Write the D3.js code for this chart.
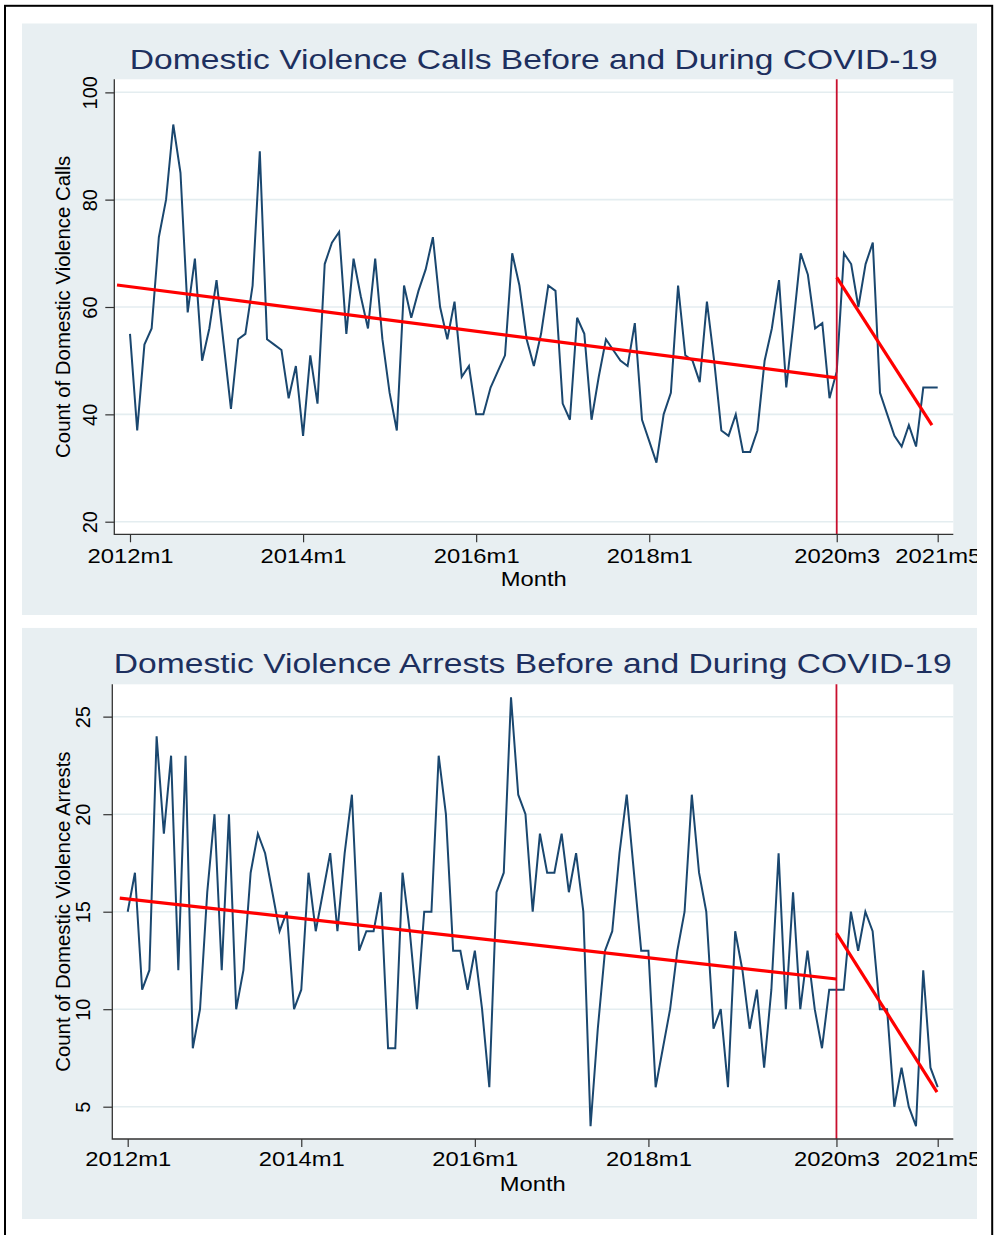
<!DOCTYPE html>
<html>
<head>
<meta charset="utf-8">
<script src="https://cdn.jsdelivr.net/npm/d3@7"></script>
<style>
  html, body { margin: 0; padding: 0; background: #fff; }
  svg { display: block; font-family: "Liberation Sans", Arial, Helvetica, sans-serif; }
</style>
</head>
<body>
<svg id="chart" width="995" height="1235"></svg>
<script>
// ── Data: monthly counts, 2012m1 … 2021m5 ─────────────────────────────────
const startYear = 2012;
const monthCount = 113;
const xTickMonths = [0, 24, 48, 72, 98, 112];
const covidMonth = 98; // 2020m3

const callsValues = [
  55, 37, 53, 56, 73, 80, 94, 85, 59, 69, 50, 56,
  65, 53, 41, 54, 55, 64, 89, 54, 53, 52, 43, 49,
  36, 51, 42, 68, 72, 74, 55, 69, 62, 56, 69, 54,
  44, 37, 64, 58, 63, 67, 73, 60, 54, 61, 47, 49,
  40, 40, 45, 48, 51, 70, 64, 54, 49, 55, 64, 63,
  42, 39, 58, 55, 39, 47, 54, 52, 50, 49, 57, 39,
  35, 31, 40, 44, 64, 51, 50, 46, 61, 50, 37, 36,
  40, 33, 33, 37, 50, 56, 65, 45, 57, 70, 66, 56,
  57, 43, 48, 70, 68, 60, 68, 72, 44, 40, 36, 34,
  38, 34, 45, 45, 45,
];

const arrestsValues = [
  15, 17, 11, 12, 24, 19, 23, 12, 23, 8, 10, 16,
  20, 12, 20, 10, 12, 17, 19, 18, 16, 14, 15, 10,
  11, 17, 14, 16, 18, 14, 18, 21, 13, 14, 14, 16,
  8, 8, 17, 14, 10, 15, 15, 23, 20, 13, 13, 11,
  13, 10, 6, 16, 17, 26, 21, 20, 15, 19, 17, 17,
  19, 16, 18, 15, 4, 9, 13, 14, 18, 21, 17, 13,
  13, 6, 8, 10, 13, 15, 21, 17, 15, 9, 10, 6,
  14, 12, 9, 11, 7, 11, 18, 10, 16, 10, 13, 10,
  8, 11, 11, 11, 15, 13, 15, 14, 10, 10, 5, 7,
  5, 4, 12, 7, 6,
];

// fitted trend end points: [month index, value]
const callsFitPre = [[-1.8, 64.1], [98, 46.8]];
const callsFitPost = [[98, 65.5], [111.2, 38.0]];
const arrestsFitPre = [[-1.1, 15.7], [98, 11.55]];
const arrestsFitPost = [[98, 13.9], [111.9, 5.75]];

const callsYTicks = [20, 40, 60, 80, 100];
const arrestsYTicks = [5, 10, 15, 20, 25];

// ── Styles ─────────────────────────────────────────────────────────────────
const BG = "#e8eff2";
const GRID = "#e4edf0";
const NAVY = "#1a476f";
const TITLE = "#1d2f5e";
const RED = "#ff0000";
const VLINE = "#c8102e";
const AXIS = "#333";

const monthLabel = (i) => `${startYear + Math.floor(i / 12)}m${(i % 12) + 1}`;

const svg = d3.select("#chart");
const defs = svg.append("defs");

// outer frame
svg.append("rect")
  .attr("x", 5).attr("y", 5.8)
  .attr("width", 987.2).attr("height", 1250)
  .attr("fill", "none")
  .attr("stroke", "#000")
  .attr("stroke-width", 2);

function drawPanel(p) {
  defs.append("clipPath").attr("id", `clip-${p.id}`)
    .append("rect")
    .attr("x", p.box.x).attr("y", p.box.y)
    .attr("width", p.box.w).attr("height", p.box.h);

  const g = svg.append("g").attr("clip-path", `url(#clip-${p.id})`);

  g.append("rect")
    .attr("x", p.box.x).attr("y", p.box.y)
    .attr("width", p.box.w).attr("height", p.box.h)
    .attr("fill", BG);

  // ── Title
  const cx = (p.plot.left + p.plot.right) / 2;
  g.append("text")
    .attr("x", cx - p.titleW / 2)
    .attr("y", p.titleY)
    .attr("font-size", 27.5)
    .attr("fill", TITLE)
    .attr("textLength", p.titleW)
    .attr("lengthAdjust", "spacingAndGlyphs")
    .text(p.title);

  // ── Plot region
  g.append("rect")
    .attr("x", p.plot.left).attr("y", p.plot.top)
    .attr("width", p.plot.right - p.plot.left)
    .attr("height", p.plot.bottom - p.plot.top)
    .attr("fill", "#fff");

  const x = d3.scaleLinear().domain([0, monthCount - 1]).range(p.xRange);
  const y = d3.scaleLinear().domain(p.yDomain).range(p.yRange);

  // gridlines
  g.append("g").selectAll("line")
    .data(p.yTicks)
    .join("line")
    .attr("x1", p.plot.left).attr("x2", p.plot.right)
    .attr("y1", (d) => y(d)).attr("y2", (d) => y(d))
    .attr("stroke", GRID)
    .attr("stroke-width", 1.6);

  // series
  g.append("path")
    .datum(p.values)
    .attr("fill", "none")
    .attr("stroke", NAVY)
    .attr("stroke-width", 2)
    .attr("stroke-linejoin", "miter")
    .attr("d", d3.line().x((d, i) => x(i)).y((d) => y(d)));

  // COVID marker
  g.append("line")
    .attr("x1", x(covidMonth)).attr("x2", x(covidMonth))
    .attr("y1", p.plot.top).attr("y2", p.plot.bottom)
    .attr("stroke", VLINE)
    .attr("stroke-width", 1.8);

  // fitted trends
  const fitLine = d3.line().x((d) => x(d[0])).y((d) => y(d[1]));
  g.append("g").selectAll("path")
    .data(p.fits)
    .join("path")
    .attr("fill", "none")
    .attr("stroke", RED)
    .attr("stroke-width", 3.2)
    .attr("d", fitLine);

  // ── Axes
  const yAxis = g.append("g")
    .attr("transform", `translate(${p.plot.left},0)`)
    .call(d3.axisLeft(y).tickValues(p.yTicks).tickSize(9).tickSizeOuter(0));
  yAxis.select(".domain").remove();
  yAxis.selectAll(".tick line").attr("stroke", AXIS).attr("stroke-width", 1.2);
  yAxis.selectAll(".tick text")
    .attr("transform", "rotate(-90)")
    .attr("x", 0)
    .attr("y", -p.yLabelGap)
    .attr("dy", null)
    .attr("text-anchor", "middle")
    .attr("font-size", 20)
    .attr("font-family", null)
    .attr("fill", "#000");

  const xAxis = g.append("g")
    .attr("transform", `translate(0,${p.plot.bottom})`)
    .call(d3.axisBottom(x).tickValues(xTickMonths).tickSize(8).tickSizeOuter(0).tickFormat(monthLabel));
  xAxis.select(".domain").remove();
  xAxis.selectAll(".tick line").attr("stroke", AXIS).attr("stroke-width", 1.2);
  xAxis.selectAll(".tick text")
    .attr("y", p.xLabelGap)
    .attr("dy", null)
    .attr("font-size", 21)
    .attr("font-family", null)
    .attr("fill", "#000")
    .attr("textLength", 86)
    .attr("lengthAdjust", "spacingAndGlyphs");

  // axis lines
  g.append("path")
    .attr("d", `M${p.plot.left},${p.plot.top}V${p.plot.bottom}H${p.plot.right}`)
    .attr("fill", "none")
    .attr("stroke", AXIS)
    .attr("stroke-width", 1.3);

  // axis titles
  g.append("text")
    .attr("x", cx - 33)
    .attr("y", p.plot.bottom + p.xTitleGap)
    .attr("font-size", 21)
    .attr("textLength", 66)
    .attr("lengthAdjust", "spacingAndGlyphs")
    .text("Month");

  g.append("text")
    .attr("transform", `translate(70,${(p.plot.top + p.plot.bottom) / 2}) rotate(-90)`)
    .attr("text-anchor", "middle")
    .attr("font-size", 20.4)
    .text(p.yTitle);
}

drawPanel({
  id: "calls",
  box: { x: 22, y: 23.3, w: 955, h: 591.7 },
  plot: { left: 114.3, right: 953.3, top: 79.3, bottom: 534.3 },
  title: "Domestic Violence Calls Before and During COVID-19",
  titleW: 808,
  titleY: 69,
  yTitle: "Count of Domestic Violence Calls",
  values: callsValues,
  fits: [callsFitPre, callsFitPost],
  yTicks: callsYTicks,
  yDomain: [20, 100],
  yRange: [521.7, 92.3],
  xRange: [130, 937.7],
  yLabelGap: 17.3,
  xLabelGap: 29,
  xTitleGap: 52,
});

drawPanel({
  id: "arrests",
  box: { x: 22, y: 627.7, w: 955, h: 591.3 },
  plot: { left: 112.3, right: 953.3, top: 684.3, bottom: 1139 },
  title: "Domestic Violence Arrests Before and During COVID-19",
  titleW: 838,
  titleY: 673.3,
  yTitle: "Count of Domestic Violence Arrests",
  values: arrestsValues,
  fits: [arrestsFitPre, arrestsFitPost],
  yTicks: arrestsYTicks,
  yDomain: [5, 25],
  yRange: [1106.7, 716.7],
  xRange: [127.7, 937.7],
  yLabelGap: 22.3,
  xLabelGap: 27,
  xTitleGap: 52,
});
</script>
</body>
</html>
